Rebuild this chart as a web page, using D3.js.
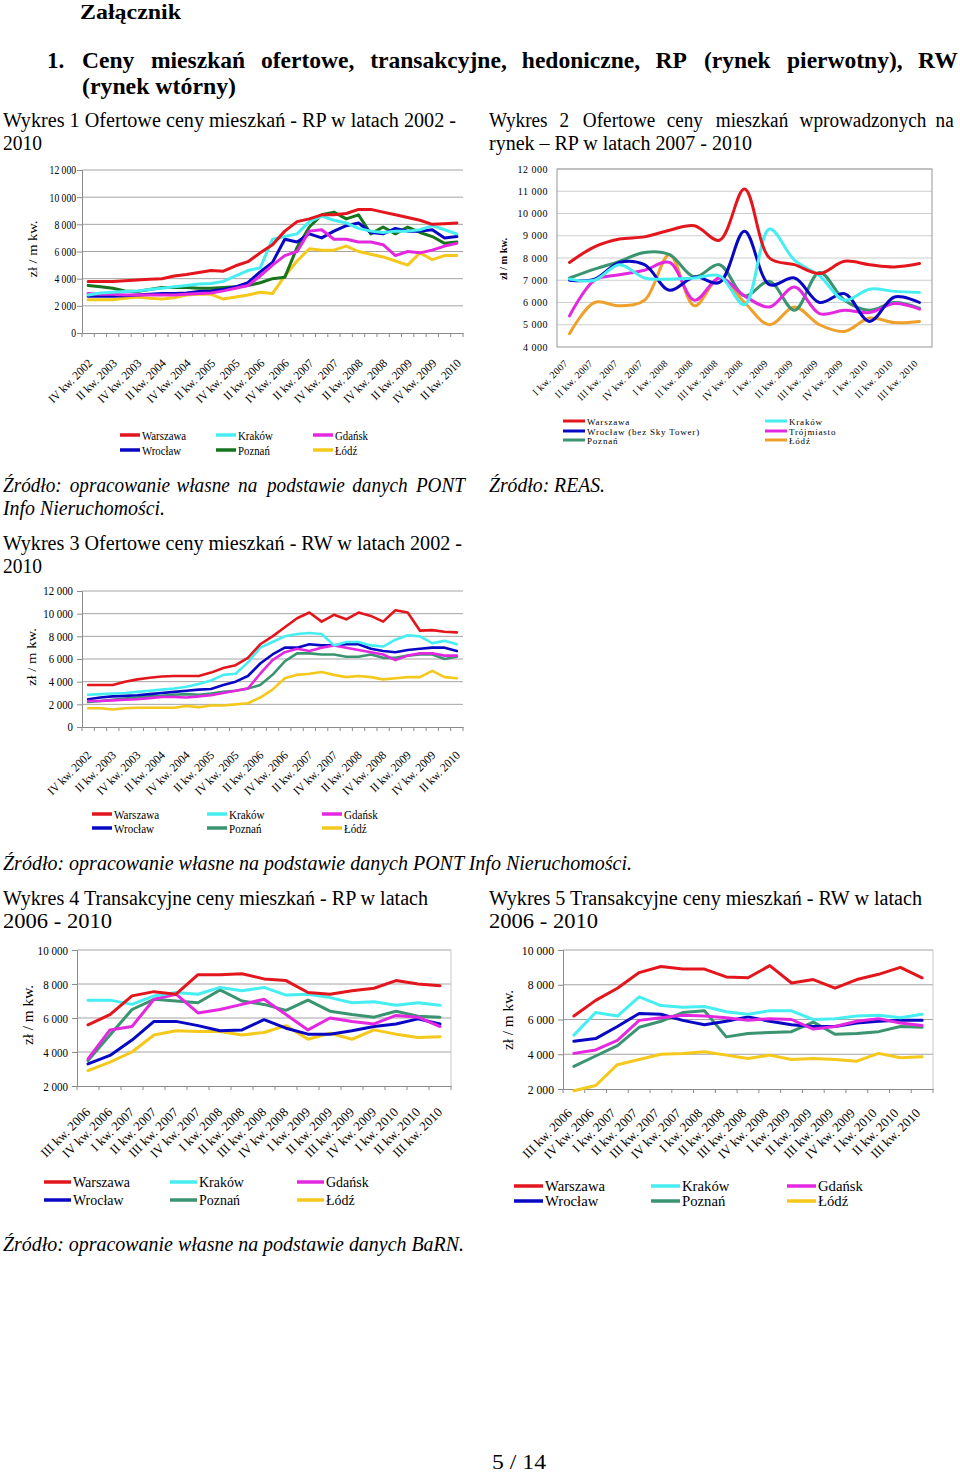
<!DOCTYPE html>
<html>
<head>
<meta charset="utf-8">
<script src="https://cdn.jsdelivr.net/npm/d3@7"></script>
<style>
body { margin: 0; background: #fff; }
svg { display: block; }
text { font-family: "Liberation Serif", "Times New Roman", serif; }
</style>
</head>
<body>
<svg id="page" width="960" height="1475"></svg>
<script>
// ---- categories / tick labels ----
const quarters0210 = [
  "IV kw. 2002",
  "I kw. 2003", "II kw. 2003", "III kw. 2003", "IV kw. 2003",
  "I kw. 2004", "II kw. 2004", "III kw. 2004", "IV kw. 2004",
  "I kw. 2005", "II kw. 2005", "III kw. 2005", "IV kw. 2005",
  "I kw. 2006", "II kw. 2006", "III kw. 2006", "IV kw. 2006",
  "I kw. 2007", "II kw. 2007", "III kw. 2007", "IV kw. 2007",
  "I kw. 2008", "II kw. 2008", "III kw. 2008", "IV kw. 2008",
  "I kw. 2009", "II kw. 2009", "III kw. 2009", "IV kw. 2009",
  "I kw. 2010", "II kw. 2010"
];
const quarters0710 = [
  "I kw. 2007", "II kw. 2007", "III kw. 2007", "IV kw. 2007",
  "I kw. 2008", "II kw. 2008", "III kw. 2008", "IV kw. 2008",
  "I kw. 2009", "II kw. 2009", "III kw. 2009", "IV kw. 2009",
  "I kw. 2010", "II kw. 2010", "III kw. 2010"
];
const quarters0610 = [
  "III kw. 2006", "IV kw. 2006",
  "I kw. 2007", "II kw. 2007", "III kw. 2007", "IV kw. 2007",
  "I kw. 2008", "II kw. 2008", "III kw. 2008", "IV kw. 2008",
  "I kw. 2009", "II kw. 2009", "III kw. 2009", "IV kw. 2009",
  "I kw. 2010", "II kw. 2010", "III kw. 2010"
];
const ticks0to12k = [0, 2000, 4000, 6000, 8000, 10000, 12000];
const ticks4to12k = [4000, 5000, 6000, 7000, 8000, 9000, 10000, 11000, 12000];
const ticks2to10k = [2000, 4000, 6000, 8000, 10000];

// ---- Wykres 1: ofertowe RP 2002-2010 ----
const w1Warszawa = [3800,3800,3800,3850,3900,3950,4000,4200,4300,4450,4600,4550,4950,5250,5900,6500,7500,8200,8400,8700,8700,8800,9100,9100,8900,8700,8500,8300,8000,8050,8100];
const w1Krakow   = [2800,2950,3000,3050,3100,3200,3300,3400,3500,3600,3650,3800,4200,4600,4800,6900,7100,7300,8200,8600,8300,8100,7700,7500,7400,7500,7500,7600,7900,7600,7300];
const w1Gdansk   = [2900,2850,2850,2800,2800,2800,2800,2800,2850,2900,2950,3100,3300,3500,4200,5000,5700,6000,7500,7600,6900,6900,6700,6700,6500,5700,6000,5900,6100,6400,6600];
const w1Wroclaw  = [2700,2700,2700,2750,2800,2850,2900,2900,2950,3050,3100,3200,3400,3700,4500,5200,6900,6700,7300,7000,7500,7900,8100,7400,7300,7700,7500,7500,7600,7000,7100];
const w1Poznan   = [3500,3400,3300,3100,3050,3200,3350,3350,3350,3300,3300,3350,3400,3500,3700,4000,4100,6300,7800,8700,8900,8400,8700,7300,7800,7300,7800,7400,7100,6600,6700];
const w1Lodz     = [2450,2450,2450,2550,2650,2550,2500,2600,2800,2850,2850,2500,2650,2800,3000,2900,4200,5300,6200,6100,6100,6400,6000,5800,5600,5300,5000,5900,5400,5700,5700];

// ---- Wykres 2: ofertowe RP 2007-2010 (REAS) ----
const w2Warszawa   = [7800,8500,8850,8950,9250,9450,8800,11100,8000,7700,7300,7850,7700,7600,7750];
const w2Krakow     = [7050,7000,7700,7100,7050,7100,7200,5900,9300,7900,7200,6100,6600,6500,6450];
const w2Wroclaw    = [7000,7050,7800,7700,6550,7150,6900,9200,6800,7100,6000,6400,5150,6250,6000];
const w2Trojmiasto = [5400,7000,7250,7450,7800,6100,7100,6300,5800,6700,5500,5650,5550,5950,5700];
const w2Poznan     = [7100,7500,7850,8250,8150,7150,7700,6300,6950,5650,7350,6100,5650,6000,5750];
const w2Lodz       = [4600,6000,5850,6100,8150,5850,7100,6000,5000,5800,5000,4700,5300,5100,5150];

// ---- Wykres 3: ofertowe RW 2002-2010 ----
const w3Warszawa = [3700,3700,3700,4000,4200,4350,4450,4500,4500,4500,4800,5200,5450,6100,7300,8000,8800,9600,10100,9300,9900,9500,10100,9800,9300,10300,10100,8500,8550,8400,8350];
const w3Krakow   = [2850,2900,2950,3000,3100,3200,3300,3400,3550,3800,4100,4600,4700,5700,7000,7500,8000,8200,8300,8200,7200,7500,7500,7200,7100,7700,8100,8000,7400,7600,7300];
const w3Gdansk   = [2300,2300,2350,2400,2450,2550,2650,2650,2600,2700,2800,3000,3200,3400,4700,5900,6600,6900,6700,7000,7200,7000,6800,6600,6400,5900,6300,6500,6500,6300,6300];
const w3Wroclaw  = [2450,2600,2700,2750,2800,2900,3000,3100,3200,3300,3350,3700,4000,4500,5600,6400,7000,7000,7300,7200,7200,7300,7300,6900,6700,6600,6800,6900,7000,7000,6700];
const w3Poznan   = [2200,2300,2400,2500,2600,2700,2750,2850,2900,2850,2950,3100,3200,3400,3700,4600,5800,6500,6500,6400,6400,6200,6200,6400,6100,6100,6300,6400,6400,6000,6200];
const w3Lodz     = [1650,1650,1550,1650,1700,1700,1700,1700,1850,1750,1900,1900,2000,2100,2600,3300,4300,4600,4700,4850,4600,4400,4500,4400,4200,4300,4400,4400,4950,4400,4300];

// ---- Wykres 4: transakcyjne RP 2006-2010 ----
const w4Warszawa = [5600,6200,7300,7550,7400,8550,8550,8600,8300,8200,7500,7400,7600,7750,8200,8000,7900];
const w4Krakow   = [7050,7050,6800,7300,7500,7400,7800,7600,7800,7350,7400,7200,6900,6950,6750,6900,6750];
const w4Gdansk   = [3600,5300,5500,7100,7400,6300,6500,6800,7100,6200,5300,6000,5800,5650,6150,6050,5500];
const w4Wroclaw  = [3300,3800,4700,5800,5800,5550,5250,5300,5900,5400,5050,5050,5250,5500,5650,5950,5650];
const w4Poznan   = [3500,5000,6500,7100,7000,6900,7650,7000,6800,6450,7050,6400,6200,6050,6400,6100,6050];
const w4Lodz     = [2900,3400,4000,5000,5250,5200,5200,5000,5150,5550,4750,5100,4750,5300,5050,4850,4900];

// ---- Wykres 5: transakcyjne RW 2006-2010 ----
const w5Warszawa = [6200,7100,7800,8700,9050,8900,8900,8450,8400,9100,8100,8300,7800,8300,8600,9000,8400];
const w5Krakow   = [5100,6400,6200,7300,6800,6700,6750,6450,6300,6500,6500,6000,6050,6200,6250,6100,6300];
const w5Gdansk   = [4050,4250,4800,5950,6100,6250,6200,6100,5950,6050,6000,5450,5600,5900,6050,5800,5650];
const w5Wroclaw  = [4750,4900,5600,6350,6300,5950,5700,5900,6150,5900,5700,5600,5600,5800,5900,5950,5950];
const w5Poznan   = [3300,3900,4500,5550,5900,6400,6500,5000,5200,5250,5300,5850,5150,5200,5300,5600,5550];
const w5Lodz     = [1900,2200,3400,3700,4000,4050,4150,3950,3750,3950,3700,3750,3700,3600,4050,3800,3850];

// ---- colours ----
const RED = "#e2161c", CYAN = "#46eef2", MAGENTA = "#e428e0", BLUE = "#0808c4",
      DKGREEN = "#17731c", TEAL = "#3a9470", YELLOW = "#f5c81c", ORANGE = "#eea02a";

const svg = d3.select("#page");
svg.append("rect").attr("width", 960).attr("height", 1475).attr("fill", "#fff");

const fmt = d3.formatLocale({ decimal: ",", thousands: " ", grouping: [3], currency: ["", ""] }).format(",d");

function squeeze(node, sx) {
  if (!sx || sx === 1) return;
  const w = node.getComputedTextLength();
  d3.select(node).attr("textLength", w * sx).attr("lengthAdjust", "spacingAndGlyphs");
}

function txt(s, x, y, o = {}) {
  const t = svg.append("text").attr("x", x).attr("y", y).text(s)
    .attr("font-size", o.size || 20)
    .attr("font-weight", o.weight || null)
    .attr("font-style", o.style || null)
    .attr("text-anchor", o.anchor || "start")
    .attr("fill", "#000");
  if (o.width) t.attr("textLength", o.width).attr("lengthAdjust", "spacingAndGlyphs");
  else squeeze(t.node(), o.sx);
  return t;
}

// spread words between x0 and x1 (justified line)
function justify(s, x0, x1, y, o = {}) {
  const words = s.split(" ");
  const nodes = words.map(w => txt(w, 0, y, o));
  const widths = nodes.map(t => t.node().getComputedTextLength() * (o.sx || 1));
  const gap = (x1 - x0 - d3.sum(widths)) / (words.length - 1);
  let x = x0;
  nodes.forEach((t, i) => { t.attr("x", x); x += widths[i] + gap; });
}

function lineChart(c) {
  const g = svg.append("g");
  const x = d3.scaleBand().domain(c.cats).range([c.x0, c.x1]);
  const y = d3.scaleLinear().domain(c.yDomain).range([c.yBot, c.yTop]);
  const cx = d => x(d) + x.bandwidth() / 2;

  g.append("g").selectAll("line")
    .data(c.yTicks.filter(t => t > c.yDomain[0]))
    .join("line")
    .attr("x1", c.x0).attr("x2", c.x1)
    .attr("y1", d => y(d)).attr("y2", d => y(d))
    .attr("stroke", c.grid || "#a4a4a4").attr("stroke-width", 1);

  if (c.border) {
    g.append("rect").attr("x", c.x0).attr("y", c.yTop)
      .attr("width", c.x1 - c.x0).attr("height", c.yBot - c.yTop)
      .attr("fill", "none").attr("stroke", "#a8a8a8").attr("stroke-width", 1.2);
  }
  if (c.rightLine) {
    g.append("line").attr("x1", c.x1).attr("x2", c.x1).attr("y1", c.yTop).attr("y2", c.yBot)
      .attr("stroke", "#c8c8c8");
  }

  // y axis
  const ya = g.append("g").attr("transform", `translate(${c.x0},0)`)
    .call(d3.axisLeft(y).tickValues(c.yTicks).tickFormat(fmt).tickSize(c.yTickSize).tickPadding(c.yPad));
  ya.attr("font-family", null).attr("font-size", c.tickFont);
  ya.select(".domain").attr("stroke", c.border ? "none" : "#8a8a8a");
  ya.selectAll(".tick line").attr("stroke", "#8a8a8a");
  ya.selectAll("text").attr("fill", "#000")
    .attr("letter-spacing", c.tickLs || null)
    .each(function () { squeeze(this, c.tickSx); });

  // x axis
  const xa = g.append("g").attr("transform", `translate(0,${c.yBot})`)
    .call(d3.axisBottom(x).tickSize(0).tickFormat(""));
  xa.select(".domain").attr("stroke", c.border ? "none" : "#8a8a8a");
  if (c.xTicks) {
    g.append("g").selectAll("line")
      .data(c.cats.map(d => x(d)).concat([c.x1]))
      .join("line")
      .attr("x1", d => d).attr("x2", d => d)
      .attr("y1", c.yBot).attr("y2", c.yBot + 4)
      .attr("stroke", "#8a8a8a");
  }
  g.append("g").selectAll("text")
    .data(c.cats.filter((d, i) => i % c.every === 0))
    .join("text")
    .attr("transform", d => `translate(${cx(d) + c.ldx},${c.yBot + c.ldy}) rotate(-45)`)
    .attr("text-anchor", "end")
    .attr("font-size", c.labelFont)
    .attr("letter-spacing", c.labelLs || null)
    .attr("fill", "#000")
    .text(d => d)
    .each(function () { squeeze(this, c.labelSx); });

  // series
  const line = d3.line()
    .x((v, i) => cx(c.cats[i]))
    .y(v => y(v))
    .curve(c.curve || d3.curveLinear);
  g.append("g").selectAll("path")
    .data(c.series.slice().reverse())
    .join("path")
    .attr("d", s => line(s.values))
    .attr("fill", "none")
    .attr("stroke", s => s.color)
    .attr("stroke-width", c.strokeW)
    .attr("stroke-linejoin", "round")
    .attr("stroke-linecap", "round");

  // y title
  const t = c.yTitle;
  g.append("text")
    .attr("transform", `translate(${t.x},${t.y}) rotate(-90)`)
    .attr("text-anchor", "middle")
    .attr("font-size", t.size)
    .attr("font-weight", t.weight || null)
    .attr("textLength", t.len).attr("lengthAdjust", "spacingAndGlyphs")
    .attr("fill", "#000")
    .text("zł / m kw.");

  // legend
  const L = c.legend, nc = L.cols.length;
  const items = g.append("g").selectAll("g").data(c.series).join("g")
    .attr("transform", (s, i) => `translate(${L.cols[i % nc]},${L.rows[Math.floor(i / nc)]})`);
  items.append("line").attr("x1", 0).attr("x2", L.sw).attr("y1", 0).attr("y2", 0)
    .attr("stroke", s => s.color).attr("stroke-width", L.lw || 3.5);
  items.append("text").attr("x", L.sw + (L.gap || 2)).attr("y", L.dy)
    .attr("font-size", L.font)
    .attr("letter-spacing", L.ls || null)
    .attr("fill", "#000")
    .text(s => s.name)
    .each(function () { squeeze(this, L.sx); });
}

// ---- page text ----
txt("Załącznik", 80, 19, { size: 22, weight: "bold", width: 101 });
txt("1.", 47, 68, { size: 23, weight: "bold" });
justify("Ceny mieszkań ofertowe, transakcyjne, hedoniczne, RP (rynek pierwotny), RW", 82, 957, 68, { size: 24, weight: "bold", sx: 0.98 });
txt("(rynek wtórny)", 82, 94, { size: 24, weight: "bold", width: 154 });

txt("Wykres 1 Ofertowe ceny mieszkań - RP w latach 2002 -", 3, 127, { width: 453 });
txt("2010", 3, 150, { width: 39 });
justify("Wykres 2 Ofertowe ceny mieszkań wprowadzonych na", 489, 953, 127, { sx: 0.96 });
txt("rynek – RP w latach 2007 - 2010", 489, 150, { width: 263 });

justify("Źródło: opracowanie własne na podstawie danych PONT", 3, 463, 492, { style: "italic", sx: 0.96 });
txt("Info Nieruchomości.", 3, 515, { style: "italic", width: 162 });
txt("Źródło: REAS.", 489, 492, { style: "italic", width: 116 });

txt("Wykres 3 Ofertowe ceny mieszkań - RW w latach 2002 -", 3, 550, { width: 459 });
txt("2010", 3, 573, { width: 39 });
txt("Źródło: opracowanie własne na podstawie danych PONT Info Nieruchomości.", 3, 870, { style: "italic", width: 629 });

txt("Wykres 4 Transakcyjne ceny mieszkań - RP w latach", 3, 905, { width: 425 });
txt("2006 - 2010", 3, 928, { width: 109 });
txt("Wykres 5 Transakcyjne ceny mieszkań - RW w latach", 489, 905, { width: 433 });
txt("2006 - 2010", 489, 928, { width: 109 });
txt("Źródło: opracowanie własne na podstawie danych BaRN.", 3, 1251, { style: "italic", width: 461 });

txt("5 / 14", 519, 1469, { size: 21, anchor: "middle", width: 54 });

// ---- charts ----
lineChart({
  cats: quarters0210,
  series: [
    { name: "Warszawa", color: RED, values: w1Warszawa },
    { name: "Kraków", color: CYAN, values: w1Krakow },
    { name: "Gdańsk", color: MAGENTA, values: w1Gdansk },
    { name: "Wrocław", color: BLUE, values: w1Wroclaw },
    { name: "Poznań", color: DKGREEN, values: w1Poznan },
    { name: "Łódź", color: YELLOW, values: w1Lodz }
  ],
  x0: 82, x1: 463, yTop: 170, yBot: 333,
  yDomain: [0, 12000], yTicks: ticks0to12k,
  yTickSize: 5, yPad: 1, tickFont: 12, tickSx: 0.8,
  every: 2, labelFont: 12, labelSx: 0.95, ldx: 5, ldy: 31, xTicks: true,
  strokeW: 3,
  yTitle: { x: 37, y: 249, size: 13, len: 57 },
  legend: { cols: [120, 216, 313], rows: [435, 450], sw: 20, font: 12, sx: 0.9, dy: 4.5 }
});

lineChart({
  cats: quarters0710,
  series: [
    { name: "Warszawa", color: RED, values: w2Warszawa },
    { name: "Kraków", color: CYAN, values: w2Krakow },
    { name: "Wrocław (bez Sky Tower)", color: BLUE, values: w2Wroclaw },
    { name: "Trójmiasto", color: MAGENTA, values: w2Trojmiasto },
    { name: "Poznań", color: TEAL, values: w2Poznan },
    { name: "Łódź", color: ORANGE, values: w2Lodz }
  ],
  x0: 557, x1: 932, yTop: 169, yBot: 347,
  yDomain: [4000, 12000], yTicks: ticks4to12k,
  yTickSize: 0, yPad: 9, tickFont: 10, tickLs: 0.5,
  every: 1, labelFont: 10, labelLs: 0.3, ldx: -1, ldy: 17, xTicks: false,
  border: true, grid: "#cdcdcd",
  curve: d3.curveCatmullRom.alpha(0.5),
  strokeW: 3,
  yTitle: { x: 507, y: 259, size: 9.5, weight: "bold", len: 42 },
  legend: { cols: [563, 765], rows: [421, 431, 440], sw: 22, font: 9, ls: 0.8, dy: 3.5, lw: 3 }
});

lineChart({
  cats: quarters0210,
  series: [
    { name: "Warszawa", color: RED, values: w3Warszawa },
    { name: "Kraków", color: CYAN, values: w3Krakow },
    { name: "Gdańsk", color: MAGENTA, values: w3Gdansk },
    { name: "Wrocław", color: BLUE, values: w3Wroclaw },
    { name: "Poznań", color: TEAL, values: w3Poznan },
    { name: "Łódź", color: YELLOW, values: w3Lodz }
  ],
  x0: 82, x1: 463, yTop: 591, yBot: 727,
  yDomain: [0, 12000], yTicks: ticks0to12k,
  yTickSize: 5, yPad: 4, tickFont: 12, tickSx: 0.9,
  every: 2, labelFont: 12, labelSx: 0.95, ldx: 4, ldy: 29, xTicks: true,
  strokeW: 2.6,
  yTitle: { x: 36, y: 657, size: 13, len: 58 },
  legend: { cols: [92, 207, 322], rows: [814, 828], sw: 20, font: 12, sx: 0.92, dy: 4.5 }
});

lineChart({
  cats: quarters0610,
  series: [
    { name: "Warszawa", color: RED, values: w4Warszawa },
    { name: "Kraków", color: CYAN, values: w4Krakow },
    { name: "Gdańsk", color: MAGENTA, values: w4Gdansk },
    { name: "Wrocław", color: BLUE, values: w4Wroclaw },
    { name: "Poznań", color: TEAL, values: w4Poznan },
    { name: "Łódź", color: YELLOW, values: w4Lodz }
  ],
  x0: 77, x1: 451, yTop: 950, yBot: 1086,
  yDomain: [2000, 10000], yTicks: ticks2to10k,
  yTickSize: 5, yPad: 4, tickFont: 13, tickSx: 0.85,
  every: 1, labelFont: 13, ldx: 3, ldy: 27, xTicks: true, rightLine: true,
  strokeW: 3,
  yTitle: { x: 33, y: 1015, size: 14, len: 60 },
  legend: { cols: [44, 170, 297], rows: [1182, 1200], sw: 27, font: 15, sx: 0.93, dy: 5 }
});

lineChart({
  cats: quarters0610,
  series: [
    { name: "Warszawa", color: RED, values: w5Warszawa },
    { name: "Kraków", color: CYAN, values: w5Krakow },
    { name: "Gdańsk", color: MAGENTA, values: w5Gdansk },
    { name: "Wrocław", color: BLUE, values: w5Wroclaw },
    { name: "Poznań", color: TEAL, values: w5Poznan },
    { name: "Łódź", color: YELLOW, values: w5Lodz }
  ],
  x0: 563, x1: 933, yTop: 950, yBot: 1089,
  yDomain: [2000, 10000], yTicks: ticks2to10k,
  yTickSize: 5, yPad: 4, tickFont: 13, tickSx: 0.9,
  every: 1, labelFont: 13, ldx: -1, ldy: 25, xTicks: true, rightLine: true,
  strokeW: 3,
  yTitle: { x: 513, y: 1020, size: 14, len: 60 },
  legend: { cols: [514, 651, 787], rows: [1186, 1201], sw: 29, font: 15, sx: 0.98, dy: 5 }
});
</script>
</body>
</html>
